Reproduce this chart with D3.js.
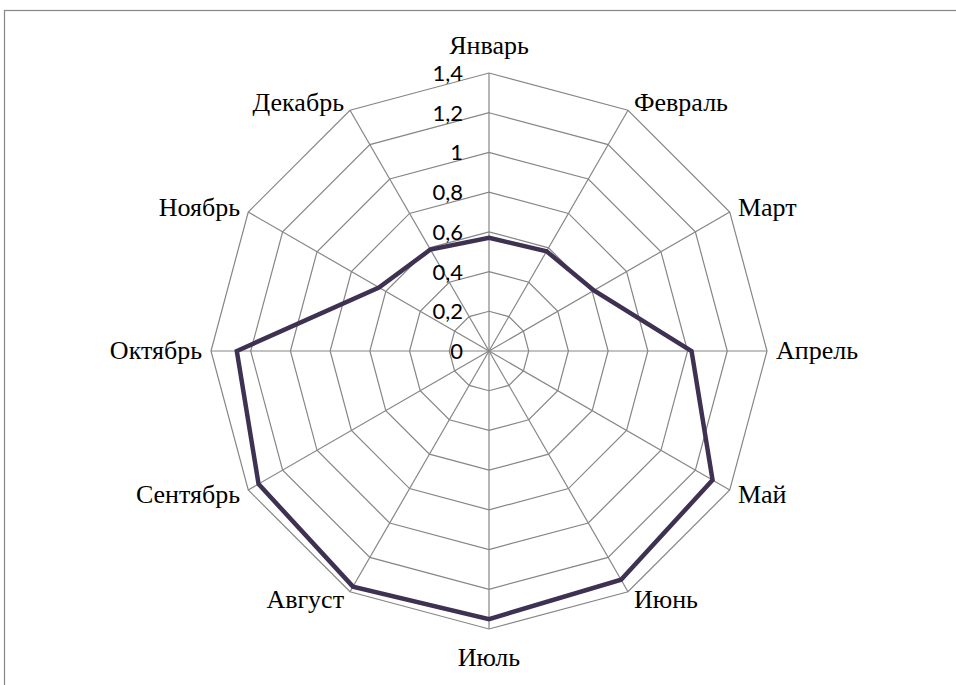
<!DOCTYPE html>
<html lang="ru">
<head>
    <meta charset="UTF-8">
    <title>Radar chart</title>
    <style>
        html, body {
            margin: 0;
            padding: 0;
            background-color: #ffffff;
        }
        svg { display: block; }
    </style>
</head>
<body>
    <div id="chart"></div>
    <script src="https://d3js.org/d3.v7.min.js"></script>
    <script>
        // data
        const months = ["Январь", "Февраль", "Март", "Апрель", "Май", "Июнь",
            "Июль", "Август", "Сентябрь", "Октябрь", "Ноябрь", "Декабрь"];
        const values = [0.57, 0.58, 0.61, 1.02, 1.30, 1.33, 1.35, 1.37, 1.34, 1.27, 0.64, 0.59];
        const ticks = [0, 0.2, 0.4, 0.6, 0.8, 1, 1.2, 1.4];
        const tickLabels = ["0", "0,2", "0,4", "0,6", "0,8", "1", "1,2", "1,4"];

        const width = 956, height = 685;
        const cx = 489, cy = 351, radius = 278;
        const gridColour = "#868686";
        const lineColour = "#3f3151";

        const svg = d3.select("#chart")
            .append("svg")
            .attr("width", width)
            .attr("height", height);

        // outer frame (cropped chart border)
        svg.append("rect")
            .attr("x", 4.5)
            .attr("y", 10.5)
            .attr("width", width + 20)
            .attr("height", height + 20)
            .style("fill", "none")
            .style("stroke", gridColour)
            .style("stroke-width", 1.2);

        const r = d3.scaleLinear().domain([0, 1.4]).range([0, radius]);
        const angle = d3.scaleLinear().domain([0, months.length]).range([0, 2 * Math.PI]);

        const g = svg.append("g").attr("transform", `translate(${cx},${cy})`);

        const pt = (i, v) => [Math.sin(angle(i)) * r(v), -Math.cos(angle(i)) * r(v)];

        // rings
        g.selectAll(".ring")
            .data(ticks.slice(1))
            .enter()
            .append("polygon")
            .attr("class", "ring")
            .attr("points", t => months.map((m, i) => pt(i, t).join(",")).join(" "))
            .style("fill", "none")
            .style("stroke", gridColour)
            .style("stroke-width", 1.2);

        // spokes
        g.selectAll(".spoke")
            .data(months)
            .enter()
            .append("line")
            .attr("class", "spoke")
            .attr("x1", 0)
            .attr("y1", 0)
            .attr("x2", (d, i) => pt(i, 1.4)[0])
            .attr("y2", (d, i) => pt(i, 1.4)[1])
            .style("stroke", gridColour)
            .style("stroke-width", 1.2);

        // data line
        const line = d3.line().curve(d3.curveLinearClosed);
        g.append("path")
            .attr("d", line(values.map((v, i) => pt(i, v))))
            .style("fill", "none")
            .style("stroke", lineColour)
            .style("stroke-width", 4.5)
            .style("stroke-linejoin", "miter");

        // radial tick labels
        g.selectAll(".tick")
            .data(ticks)
            .enter()
            .append("text")
            .attr("class", "tick")
            .attr("x", -26)
            .attr("y", d => -r(d))
            .attr("dy", "0.36em")
            .attr("text-anchor", "end")
            .text((d, i) => tickLabels[i])
            .style("font-family", "Lato, 'Open Sans', sans-serif")
            .style("font-size", "22px")
            .style("fill", "#000");

        // month labels
        g.selectAll(".label")
            .data(months)
            .enter()
            .append("text")
            .attr("class", "label")
            .each(function (d, i) {
                const s = Math.sin(angle(i)), c = Math.cos(angle(i));
                const [vx, vy] = pt(i, 1.4);
                const t = d3.select(this);
                if (Math.abs(s) < 0.01) {
                    t.attr("x", vx)
                        .attr("y", vy - (c > 0 ? 27 : -29))
                        .attr("text-anchor", "middle");
                } else {
                    t.attr("x", vx + Math.sign(s) * (3 + 6 * Math.abs(s)))
                        .attr("y", vy - c * 9)
                        .attr("text-anchor", s > 0 ? "start" : "end");
                }
            })
            .attr("dy", "0.32em")
            .text(d => d)
            .style("font-family", "'Liberation Serif', 'Times New Roman', serif")
            .style("font-size", "26px")
            .style("fill", "#000");
    </script>
</body>
</html>
